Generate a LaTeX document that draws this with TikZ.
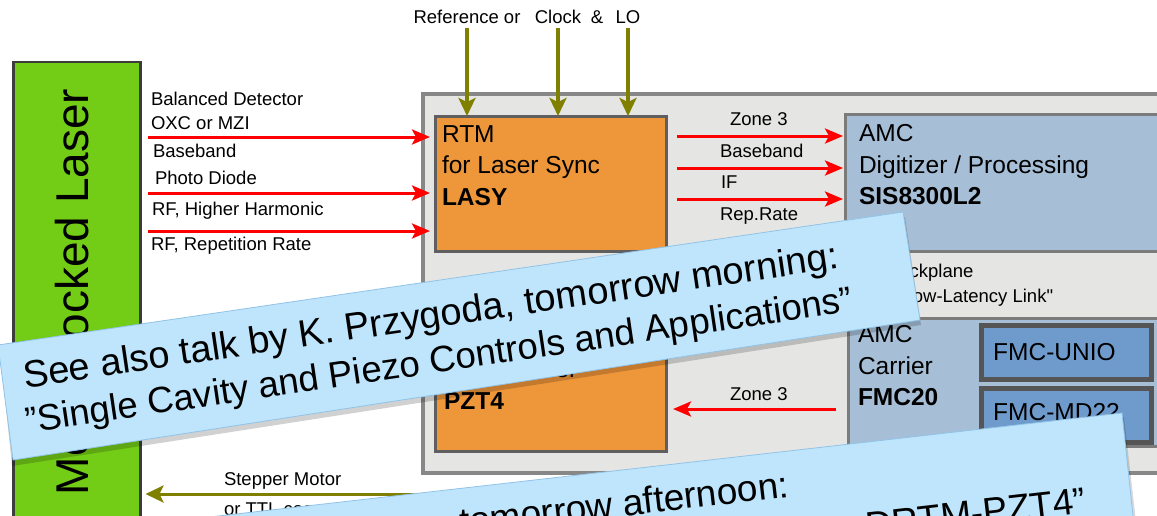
\documentclass[tikz,border=0pt]{standalone}
\usepackage{fontspec}
\setmainfont{Liberation Sans}
\usetikzlibrary{arrows.meta}
\definecolor{lasergreen}{RGB}{115,204,22}
\definecolor{laserborder}{RGB}{60,60,60}
\definecolor{cratefill}{RGB}{229,230,227}
\definecolor{crateborder}{RGB}{135,135,135}
\definecolor{orangefill}{RGB}{238,150,58}
\definecolor{orangeborder}{RGB}{95,95,95}
\definecolor{amcfill}{RGB}{166,191,215}
\definecolor{amcborder}{RGB}{123,123,123}
\definecolor{fmcfill}{RGB}{111,155,204}
\definecolor{fmcborder}{RGB}{85,85,85}
\definecolor{olivec}{RGB}{128,128,0}
\definecolor{notefill}{RGB}{190,229,251}
\definecolor{noteborder}{RGB}{145,195,232}
\begin{document}
\begin{tikzpicture}[x=1pt,y=-1pt,
  box/.style={draw, inner sep=0pt, outer sep=0pt, anchor=north west},
  lbl/.style={font=\fontsize{18.5}{22}\selectfont, inner sep=0pt, outer sep=0pt},
  boxtxt/.style={font=\fontsize{24.5}{31.5}\selectfont, align=left, inner sep=0pt, outer sep=0pt, anchor=north west},
  rarrow/.style={draw=red, line width=3pt, -{Stealth[length=18pt,width=15pt,inset=4pt]}},
  oarrow/.style={draw=olivec, line width=3.3pt, -{Stealth[length=18pt,width=17pt,inset=4pt]}},
  notetxt/.style={inner sep=0pt, outer sep=0pt}
]
\useasboundingbox (0,0) rectangle (1157,515);
\clip (0,0) rectangle (1157,515);
\fill[white] (0,0) rectangle (1157,515);

% laser
\node[box, fill=lasergreen, draw=laserborder, line width=2.5pt, minimum width=127pt, minimum height=480pt] (laser) at (13.5,62) {};
\node[rotate=90, anchor=base, font=\fontsize{46}{50}\selectfont, inner sep=0pt] (lasertxt) at (88,292) {Mode-Locked Laser};

% crate
\node[box, fill=cratefill, draw=crateborder, line width=3.5pt, minimum width=760pt, minimum height=379pt] (crate) at (423,94) {};

% boards
\node[box, fill=orangefill, draw=orangeborder, line width=3pt, minimum width=231pt, minimum height=135pt] (lasy) at (435,116) {};
\node[boxtxt] (lasytxt) at (442,125.5) {RTM\\for Laser Sync\\\textbf{LASY}};

\node[box, fill=orangefill, draw=orangeborder, line width=3pt, minimum width=231pt, minimum height=131pt] (pzt) at (435,320) {};
\node[boxtxt] (pzttxt) at (444,329.5) {RTM\\Piezo Driver\\\textbf{PZT4}};

\node[box, fill=amcfill, draw=amcborder, line width=3pt, minimum width=330pt, minimum height=137pt] (amc) at (845,114) {};
\node[boxtxt] (amctxt) at (859,124.5) {AMC\\Digitizer / Processing\\\textbf{SIS8300L2}};

\node[lbl, anchor=base west] (bp1) at (887,277) {Backplane};
\node[lbl, anchor=base west] (bp2) at (896,302) {\addfontfeature{Ligatures=TeXOff}"Low-Latency Link"};

\node[box, fill=amcfill, draw=amcborder, line width=3pt, minimum width=330pt, minimum height=128pt] (carrier) at (848,318) {};
\node[boxtxt] (carriertxt) at (858,325.5) {AMC\\Carrier\\\textbf{FMC20}};

\node[box, fill=fmcfill, draw=fmcborder, line width=5pt, minimum width=170pt, minimum height=54pt] (unio) at (981,325) {};
\node[anchor=base west, font=\fontsize{24.5}{30}\selectfont, inner sep=0pt] (uniotxt) at (993,360) {FMC-UNIO};
\node[box, fill=fmcfill, draw=fmcborder, line width=5pt, minimum width=170pt, minimum height=54pt] (md) at (981,388) {};
\node[anchor=base west, font=\fontsize{24.5}{30}\selectfont, inner sep=0pt] (mdtxt) at (993,420) {FMC-MD22};

% top references
\node[lbl, anchor=base] (ref) at (467,23) {Reference or};
\node[lbl, anchor=base] (clk) at (558,23) {Clock};
\node[lbl, anchor=base] (amp) at (597,23) {\&};
\node[lbl, anchor=base] (lo) at (628,23) {LO};
\draw[oarrow] (ref.base |- 0,28) -- (ref.base |- lasy.north);
\draw[oarrow] (clk.base |- 0,28) -- (clk.base |- lasy.north);
\draw[oarrow] (lo.base |- 0,28) -- (lo.base |- lasy.north);

% left inputs
\node[lbl, anchor=base west] (bd) at (151,105) {Balanced Detector};
\node[lbl, anchor=base west] (oxc) at (151,129) {OXC or MZI};
\node[lbl, anchor=base west] (bb) at (153,157) {Baseband};
\node[lbl, anchor=base west] (pd) at (155,184) {Photo Diode};
\node[lbl, anchor=base west] (rfh) at (152,215) {RF, Higher Harmonic};
\node[lbl, anchor=base west] (rfr) at (151,250) {RF, Repetition Rate};
\coordinate (s1) at (148,137);
\coordinate (s2) at (148,193);
\coordinate (s3) at (148,231);
\draw[rarrow, shorten >=5pt] (s1) -- (s1 -| lasy.west);
\draw[rarrow, shorten >=5pt] (s2) -- (s2 -| lasy.west);
\draw[rarrow, shorten >=5pt] (s3) -- (s3 -| lasy.west);

% LASY -> AMC
\node[lbl, anchor=base west] (z3a) at (730,125) {Zone 3};
\node[lbl, anchor=base west] (bb2) at (720,157) {Baseband};
\node[lbl, anchor=base west] (if) at (721,188) {IF};
\node[lbl, anchor=base west] (rr) at (720,220) {Rep.Rate};
\draw[rarrow, shorten <=11pt, shorten >=2pt] (lasy.east |- 0,136) -- (amc.west |- 0,136);
\draw[rarrow, shorten <=11pt, shorten >=2pt] (lasy.east |- 0,168) -- (amc.west |- 0,168);
\draw[rarrow, shorten <=11pt, shorten >=2pt] (lasy.east |- 0,199) -- (amc.west |- 0,199);

% Carrier -> PZT4
\node[lbl, anchor=base west] (z3b) at (730,400) {Zone 3};
\draw[rarrow, shorten <=12pt, shorten >=7pt] (carrier.west |- 0,409) -- (pzt.east |- 0,409);

% stepper
\node[lbl, anchor=base west] (stm) at (224,485) {Stepper Motor};
\node[lbl, anchor=base west] (ttl) at (224,515) {or TTL coarse tuning};
\coordinate (st) at (600,494);
\draw[oarrow, line width=3pt, shorten >=5pt] (st) -- (st -| laser.east);

% note 1
\fill[black, opacity=0.18] (0,350) -- (905,217) -- (921,325) -- (12,466) -- cycle;
\filldraw[fill=notefill, draw=noteborder, line width=0.8pt] (-2,345) -- (903,212) -- (920,320) -- (13,460) -- cycle;
\node[notetxt, rotate=8.36, anchor=base west, font=\fontsize{38}{44}\selectfont] (n1a) at (25,388) {See also talk by K. Przygoda, tomorrow morning:};
\node[notetxt, rotate=8.36, anchor=base west, font=\fontsize{36.6}{44}\selectfont] (n1b) at (27,433) {”Single Cavity and Piezo Controls and Applications”};

% note 2
\fill[black, opacity=0.15] (100,533) -- (1124,417) -- (1145,600) -- (100,600) -- cycle;
\filldraw[fill=notefill, draw=noteborder, line width=0.8pt] (100,529.5) -- (1122,413) -- (1142,600) -- (100,600) -- cycle;
\node[notetxt, rotate=6.56, anchor=base east, font=\fontsize{37}{44}\selectfont] (n2a) at (790,497) {tomorrow afternoon:};
\node[notetxt, rotate=6.56, anchor=base east, font=\fontsize{37}{44}\selectfont] (n2b) at (1087,513) {DRTM-PZT4”};
\end{tikzpicture}
\end{document}
